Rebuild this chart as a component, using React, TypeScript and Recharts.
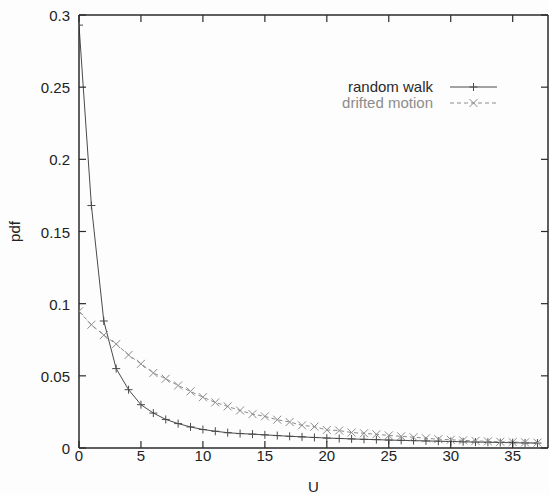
import { LineChart, Line, XAxis, YAxis, Legend, Label } from "recharts";

// values (one point per integer U)
const uValues = [
  0, 1, 2, 3, 4, 5, 6, 7, 8, 9, 10, 11, 12, 13, 14, 15, 16, 17, 18, 19,
  20, 21, 22, 23, 24, 25, 26, 27, 28, 29, 30, 31, 32, 33, 34, 35, 36, 37,
];
const randomWalk = [
  0.293, 0.168, 0.088, 0.055, 0.0404, 0.030, 0.0242, 0.0198, 0.0169, 0.0146,
  0.0128, 0.0116, 0.0106, 0.0100, 0.0096, 0.0091, 0.0086, 0.0081, 0.0077, 0.0073,
  0.0069, 0.0066, 0.0063, 0.0060, 0.0058, 0.0055, 0.0053, 0.0051, 0.0049, 0.0047,
  0.0045, 0.0043, 0.0041, 0.0040, 0.0038, 0.0037, 0.0035, 0.0034,
];
const driftedMotion = [
  0.0947, 0.0854, 0.0782, 0.0720, 0.0645, 0.0583, 0.0520, 0.0480, 0.0433, 0.0392,
  0.0352, 0.0316, 0.0288, 0.0260, 0.0235, 0.0219, 0.0196, 0.0180, 0.0157, 0.0148,
  0.0125, 0.0121, 0.0107, 0.0102, 0.0095, 0.0087, 0.0081, 0.0075, 0.0067, 0.0061,
  0.0057, 0.0053, 0.0049, 0.0046, 0.0043, 0.0041, 0.0039, 0.0037,
];
const seriesNames = ["random walk", "drifted motion"];
const xTicks = [0, 5, 10, 15, 20, 25, 30, 35];
const yTicks = [0, 0.05, 0.1, 0.15, 0.2, 0.25, 0.3];

const data = uValues.map((u, i) => ({ u, walk: randomWalk[i], drift: driftedMotion[i] }));

const X_DOMAIN = [0, 37.85];
const Y_DOMAIN = [0, 0.3];
const FONT = "'Liberation Sans', Arial, Helvetica, sans-serif";
const AXIS = "#2a2a2a";
const WALK = "#4a4a4a";
const DRIFT = "#8c8c8c";
const TICK = 7;

const BottomTick = ({ x, y, payload }: any) => (
  <g>
    <line x1={x} x2={x} y1={y} y2={y - TICK} stroke={AXIS} strokeWidth={1.2} />
    <text x={x} y={y + 13} textAnchor="middle" fontSize={15} fontFamily={FONT} fill="#222">
      {String(payload.value)}
    </text>
  </g>
);

const LeftTick = ({ x, y, payload }: any) => (
  <g>
    <line x1={x} x2={x + TICK} y1={y} y2={y} stroke={AXIS} strokeWidth={1.2} />
    <text x={x - 9} y={y + 6} textAnchor="end" fontSize={15} fontFamily={FONT} fill="#222">
      {String(payload.value)}
    </text>
  </g>
);

const TopTick = ({ x, y }: any) => (
  <line x1={x} x2={x} y1={y} y2={y + TICK} stroke={AXIS} strokeWidth={1.2} />
);

const RightTick = ({ x, y }: any) => (
  <line x1={x} x2={x - TICK} y1={y} y2={y} stroke={AXIS} strokeWidth={1.2} />
);

const PlusDot = ({ cx, cy, index }: any) => (
  <path
    key={`p-${index}`}
    d={`M${cx - 4},${cy}H${cx + 4}M${cx},${cy - 4}V${cy + 4}`}
    stroke={WALK}
    strokeWidth={1}
    fill="none"
  />
);

const CrossDot = ({ cx, cy, index }: any) => (
  <path
    key={`x-${index}`}
    d={`M${cx - 4},${cy - 4}L${cx + 4},${cy + 4}M${cx - 4},${cy + 4}L${cx + 4},${cy - 4}`}
    stroke={DRIFT}
    strokeWidth={1}
    fill="none"
  />
);

const KeyBox = () => (
  <svg width={200} height={40}>
    <text x={133} y={16} textAnchor="end" fontSize={15} fontFamily={FONT} fill="#2a2a2a">
      {seriesNames[0]}
    </text>
    <line x1={150} x2={197} y1={11} y2={11} stroke={WALK} strokeWidth={1} />
    <path d="M169.5,11H177.5M173.5,7V15" stroke={WALK} strokeWidth={1} />
    <text x={133} y={32} textAnchor="end" fontSize={15} fontFamily={FONT} fill={DRIFT}>
      {seriesNames[1]}
    </text>
    <line x1={150} x2={197} y1={27} y2={27} stroke={DRIFT} strokeWidth={1} strokeDasharray="4 3" />
    <path d="M169.5,23L177.5,31M169.5,31L177.5,23" stroke={DRIFT} strokeWidth={1} />
  </svg>
);

export default function App() {
  return (
    <div style={{ position: "absolute", left: 0, top: 0, width: 549, height: 495, background: "#fdfdfd" }}>
      <LineChart width={549} height={495} data={data} margin={{ top: 14, right: 0, bottom: 0, left: 0 }}>
        <XAxis
          dataKey="u"
          type="number"
          domain={X_DOMAIN}
          ticks={xTicks}
          allowDataOverflow
          height={47}
          tickSize={0}
          tickMargin={0}
          tick={<BottomTick />}
          axisLine={{ stroke: AXIS, strokeWidth: 1.5 }}
          tickLine={false}
        >
          <Label
            content={({ viewBox }: any) => (
              <text
                x={viewBox.x + viewBox.width / 2}
                y={viewBox.y + 44}
                textAnchor="middle"
                fontSize={15}
                fontFamily={FONT}
                fill="#222"
              >
                U
              </text>
            )}
          />
        </XAxis>
        <XAxis
          xAxisId="top"
          dataKey="u"
          type="number"
          orientation="top"
          domain={X_DOMAIN}
          ticks={xTicks}
          allowDataOverflow
          height={1}
          tickSize={0}
          tickMargin={0}
          tick={<TopTick />}
          axisLine={{ stroke: AXIS, strokeWidth: 1.5 }}
          tickLine={false}
        />
        <YAxis
          type="number"
          domain={Y_DOMAIN}
          ticks={yTicks}
          width={79}
          tickSize={0}
          tickMargin={0}
          tick={<LeftTick />}
          axisLine={{ stroke: AXIS, strokeWidth: 1.5 }}
          tickLine={false}
        >
          <Label
            content={({ viewBox }: any) => {
              const cx = viewBox.x + 20;
              const cy = viewBox.y + viewBox.height / 2;
              return (
                <text
                  x={cx}
                  y={cy}
                  transform={`rotate(-90, ${cx}, ${cy})`}
                  textAnchor="middle"
                  fontSize={15}
                  fontFamily={FONT}
                  fill="#222"
                >
                  pdf
                </text>
              );
            }}
          />
        </YAxis>
        <YAxis
          yAxisId="right"
          type="number"
          orientation="right"
          domain={Y_DOMAIN}
          ticks={yTicks}
          width={1}
          tickSize={0}
          tickMargin={0}
          tick={<RightTick />}
          axisLine={{ stroke: AXIS, strokeWidth: 1.5 }}
          tickLine={false}
        />
        <Legend
          layout="vertical"
          align="center"
          verticalAlign="middle"
          content={() => <KeyBox />}
          wrapperStyle={{ position: "absolute", left: 300, top: 76, width: 200, height: 40 }}
        />
        <Line
          name={seriesNames[0]}
          dataKey="walk"
          type="linear"
          stroke={WALK}
          strokeWidth={1}
          dot={PlusDot}
          activeDot={false}
          isAnimationActive={false}
        />
        <Line
          name={seriesNames[1]}
          dataKey="drift"
          xAxisId="top"
          yAxisId="right"
          type="linear"
          stroke={DRIFT}
          strokeWidth={1}
          strokeDasharray="4 3"
          dot={CrossDot}
          activeDot={false}
          isAnimationActive={false}
        />
      </LineChart>
    </div>
  );
}
